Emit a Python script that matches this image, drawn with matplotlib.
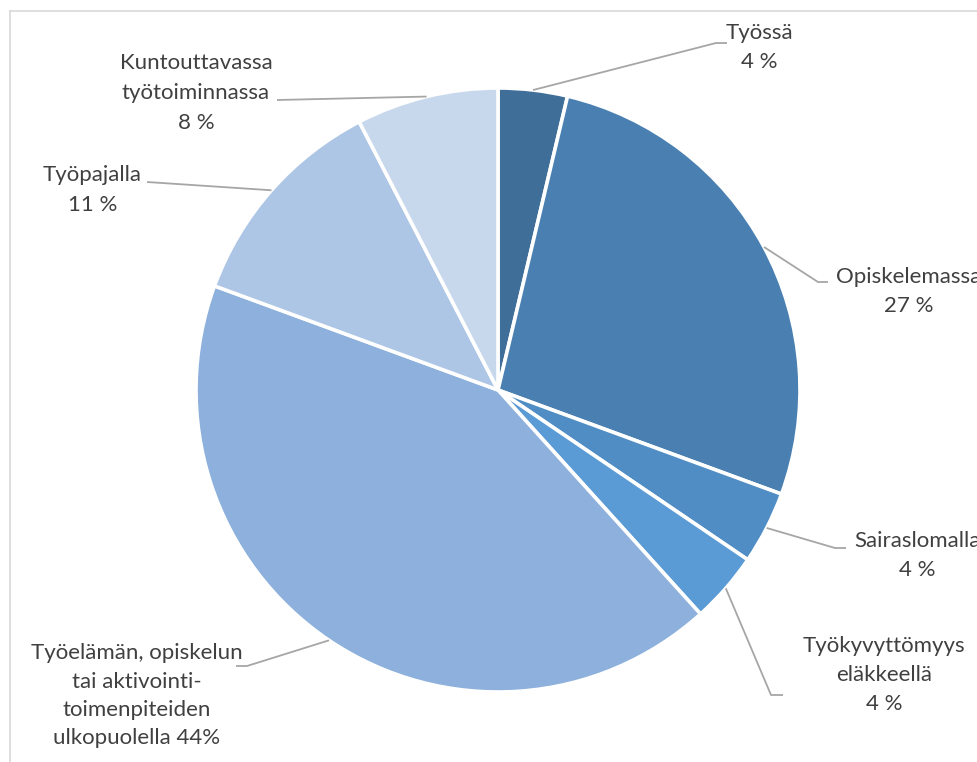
import numpy as np
import matplotlib
matplotlib.use("Agg")
import matplotlib.pyplot as plt

# ---- data ----
categories = ["Työssä", "Opiskelemassa", "Sairaslomalla", "Työkyvyttömyys eläkkeellä",
              "Työelämän, opiskelun tai aktivointi-toimenpiteiden ulkopuolella",
              "Työpajalla", "Kuntouttavassa työtoiminnassa"]
values = [3.7, 26.9, 3.9, 3.8, 42.3, 11.8, 7.6]
label_texts = [
    ["Työssä", "4 %"],
    ["Opiskelemassa", "27 %"],
    ["Sairaslomalla", "4 %"],
    ["Työkyvyttömyys", "eläkkeellä", "4 %"],
    ["Työelämän, opiskelun", "tai aktivointi-", "toimenpiteiden", "ulkopuolella 44%"],
    ["Työpajalla", "11 %"],
    ["Kuntouttavassa", "työtoiminnassa", "8 %"],
]
colors = ["#3F6E99", "#4A80B1", "#4F8DC4", "#5B9BD5", "#8DB1DC", "#ADC6E5", "#C8D8EC"]

# ---- layout (pixel coordinates, y measured from top) ----
W, H = 977, 762
CX, CY, R = 498, 390, 302
# (text center x, first line y, line step, leader corner, leader end)
label_layout = [
    (759, 33, 29.5, (716, 43), (727, 43)),
    (909, 277, 29.5, (818, 282), (828, 282)),
    (917, 541, 29.5, (835, 548), (846, 548)),
    (884, 646, 29.0, (771, 695), (783, 695)),
    (137, 653, 28.5, (247, 666), (236, 666)),
    (92.5, 175, 30, (147, 182), (147, 182)),
    (196, 63, 30, (277, 100), (277, 100)),
]

plt.rcParams['font.family'] = ['Lato', 'DejaVu Sans']
fig = plt.figure(figsize=(W / 100, H / 100), dpi=100)
ax = fig.add_axes([0, 0, 1, 1])

def Y(y):
    return H - y

wedges, _ = ax.pie(values, colors=colors, startangle=90, counterclock=False,
                   center=(CX, Y(CY)), radius=R, frame=True,
                   wedgeprops=dict(edgecolor='white', linewidth=2.6))
ax.set_xlim(0, W)
ax.set_ylim(0, H)
ax.set_aspect('equal')
ax.axis('off')

TXT = "#404040"
LEAD = "#A6A6A6"
for w, lines, (tx, ty, step, corner, end) in zip(wedges, label_texts, label_layout):
    mid = np.deg2rad((w.theta1 + w.theta2) / 2)
    sx = CX + R * np.cos(mid)
    sy = Y(CY) + R * np.sin(mid)
    ax.plot([sx, corner[0], end[0]], [sy, Y(corner[1]), Y(end[1])],
            color=LEAD, lw=1.3, solid_capstyle='butt', zorder=3)
    for i, line in enumerate(lines):
        ax.text(tx, Y(ty + i * step), line, ha='center', va='center',
                fontsize=16, color=TXT, zorder=4)

# chart-area frame (top and left edges visible)
ax.plot([9.5, W], [Y(10.5), Y(10.5)], color="#D9D9D9", lw=1.2, clip_on=False)
ax.plot([9.5, 9.5], [Y(10.5), 0], color="#D9D9D9", lw=1.2, clip_on=False)

fig.savefig("out.png", dpi=100, facecolor='white')
